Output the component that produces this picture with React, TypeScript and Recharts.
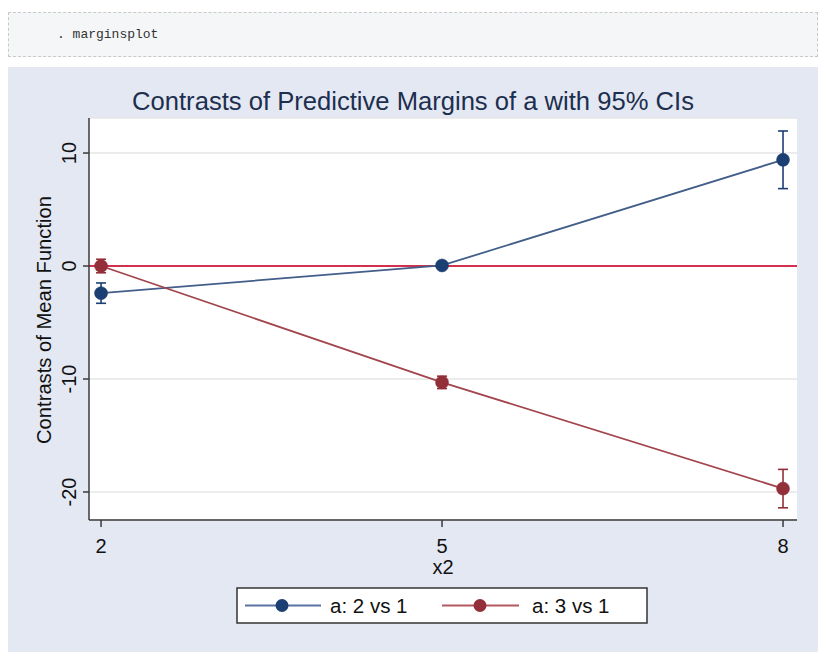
import React from 'react';
import {
  ComposedChart,
  Line,
  XAxis,
  YAxis,
  CartesianGrid,
  ErrorBar,
  ReferenceLine,
} from 'recharts';

const xValues = [2, 5, 8];
const series2vs1 = [-2.4, 0.05, 9.4];
const err2vs1 = [0.9, 0.15, 2.55];
const series3vs1 = [0.0, -10.3, -19.7];
const err3vs1 = [0.6, 0.55, 1.7];
const xTicks = [2, 5, 8];
const yTicks = [-20, -10, 0, 10];
const legendLabels = ['a: 2 vs 1', 'a: 3 vs 1'];

const data2 = xValues.map((x, i) => ({ x, y: series2vs1[i], e: err2vs1[i] }));
const data3 = xValues.map((x, i) => ({ x, y: series3vs1[i], e: err3vs1[i] }));

const FONT = '"Liberation Sans", Arial, sans-serif';
const BLUE_LINE = '#425e89';
const BLUE_DOT = '#1b3f72';
const RED_LINE = '#a2454c';
const RED_DOT = '#932f38';
const ZERO = '#d2304f';
const AXIS = '#3a3a3a';

const YTick = (props: any) => {
  const { x, y, payload } = props;
  const bx = x - 5;
  return (
    <text
      x={bx}
      y={y}
      transform={`rotate(-90 ${bx} ${y})`}
      textAnchor="middle"
      fontFamily={FONT}
      fontSize={20}
      fill="#111"
    >
      {payload.value}
    </text>
  );
};

const XTick = (props: any) => {
  const { x, y, payload } = props;
  return (
    <text x={x} y={y + 24} textAnchor="middle" fontFamily={FONT} fontSize={20} fill="#111">
      {payload.value}
    </text>
  );
};

const makeDot = (fill: string) => (props: any) => {
  const { cx, cy, index } = props;
  if (cx == null || cy == null) return <g key={index} />;
  return <circle key={index} cx={cx} cy={cy} r={6.5} fill={fill} stroke={fill} strokeWidth={0.5} />;
};

export default function App() {
  return (
    <div style={{ width: 810 }}>
      <div
        style={{
          marginTop: 4,
          height: 45,
          boxSizing: 'border-box',
          border: '1px dashed #c9c9c9',
          background: '#f5f6f7',
          display: 'flex',
          alignItems: 'center',
          paddingLeft: 48,
          fontFamily: '"Liberation Mono", "DejaVu Sans Mono", monospace',
          fontSize: 13,
          color: '#333',
        }}
      >
        . marginsplot
      </div>
      <div style={{ marginTop: 10, width: 810, height: 585, background: '#e4e8f2', position: 'relative' }}>
        <div
          style={{
            position: 'absolute',
            left: 0,
            width: 810,
            top: 21,
            textAlign: 'center',
            fontFamily: FONT,
            fontSize: 25.6,
            lineHeight: '26px',
            color: '#1d2f4f',
          }}
        >
          Contrasts of Predictive Margins of a with 95% CIs
        </div>
        <ComposedChart
          width={810}
          height={585}
          margin={{ top: 51, right: 21, bottom: 82, left: 31 }}
        >
          <CartesianGrid
            horizontal
            vertical={false}
            fill="#ffffff"
            stroke="#e6e6e6"
            strokeWidth={1.5}
          />
          <XAxis
            type="number"
            dataKey="x"
            domain={[1.894, 8.123]}
            ticks={xTicks}
            allowDataOverflow
            height={50}
            tickSize={7}
            tickMargin={2}
            stroke={AXIS}
            strokeWidth={1.5}
            tick={<XTick />}
            label={(p: any) => {
              const vb = p.viewBox || {};
              return (
                <text
                  x={vb.x + vb.width / 2}
                  y={507}
                  textAnchor="middle"
                  fontFamily={FONT}
                  fontSize={20}
                  fill="#111"
                >
                  x2
                </text>
              );
            }}
          />
          <YAxis
            type="number"
            domain={[-22.48, 13.1]}
            ticks={yTicks}
            allowDataOverflow
            width={50}
            tickSize={6}
            tickMargin={2}
            stroke={AXIS}
            strokeWidth={1.5}
            tick={<YTick />}
            label={(p: any) => (
              <text
                x={43}
                y={253}
                transform="rotate(-90 43 253)"
                textAnchor="middle"
                fontFamily={FONT}
                fontSize={20.2}
                fill="#111"
              >
                Contrasts of Mean Function
              </text>
            )}
          />
          <ReferenceLine y={0} stroke={ZERO} strokeWidth={2} ifOverflow="extendDomain" />
          <Line
            data={data2}
            dataKey="y"
            type="linear"
            stroke={BLUE_LINE}
            strokeWidth={1.8}
            dot={makeDot(BLUE_DOT)}
            activeDot={false}
            isAnimationActive={false}
            name={legendLabels[0]}
          >
            <ErrorBar dataKey="e" direction="y" width={5} stroke={BLUE_DOT} strokeWidth={1.6} />
          </Line>
          <Line
            data={data3}
            dataKey="y"
            type="linear"
            stroke={RED_LINE}
            strokeWidth={1.8}
            dot={makeDot(RED_DOT)}
            activeDot={false}
            isAnimationActive={false}
            name={legendLabels[1]}
          >
            <ErrorBar dataKey="e" direction="y" width={5} stroke={RED_DOT} strokeWidth={1.6} />
          </Line>
        </ComposedChart>
        <svg
          width={412}
          height={37}
          style={{ position: 'absolute', left: 228, top: 520 }}
        >
          <rect x={1} y={1} width={410} height={35} fill="#fff" stroke="#333" strokeWidth={1.5} />
          <line x1={9} y1={18.5} x2={85} y2={18.5} stroke="#5a72a0" strokeWidth={2} />
          <circle cx={46} cy={18.5} r={6.5} fill={BLUE_DOT} />
          <text x={94} y={25.5} fontFamily={FONT} fontSize={20.5} fill="#111">
            {legendLabels[0]}
          </text>
          <line x1={206} y1={18.5} x2={283} y2={18.5} stroke="#b25a60" strokeWidth={2} />
          <circle cx={244} cy={18.5} r={6.5} fill={RED_DOT} />
          <text x={296} y={25.5} fontFamily={FONT} fontSize={20.5} fill="#111">
            {legendLabels[1]}
          </text>
        </svg>
      </div>
    </div>
  );
}
